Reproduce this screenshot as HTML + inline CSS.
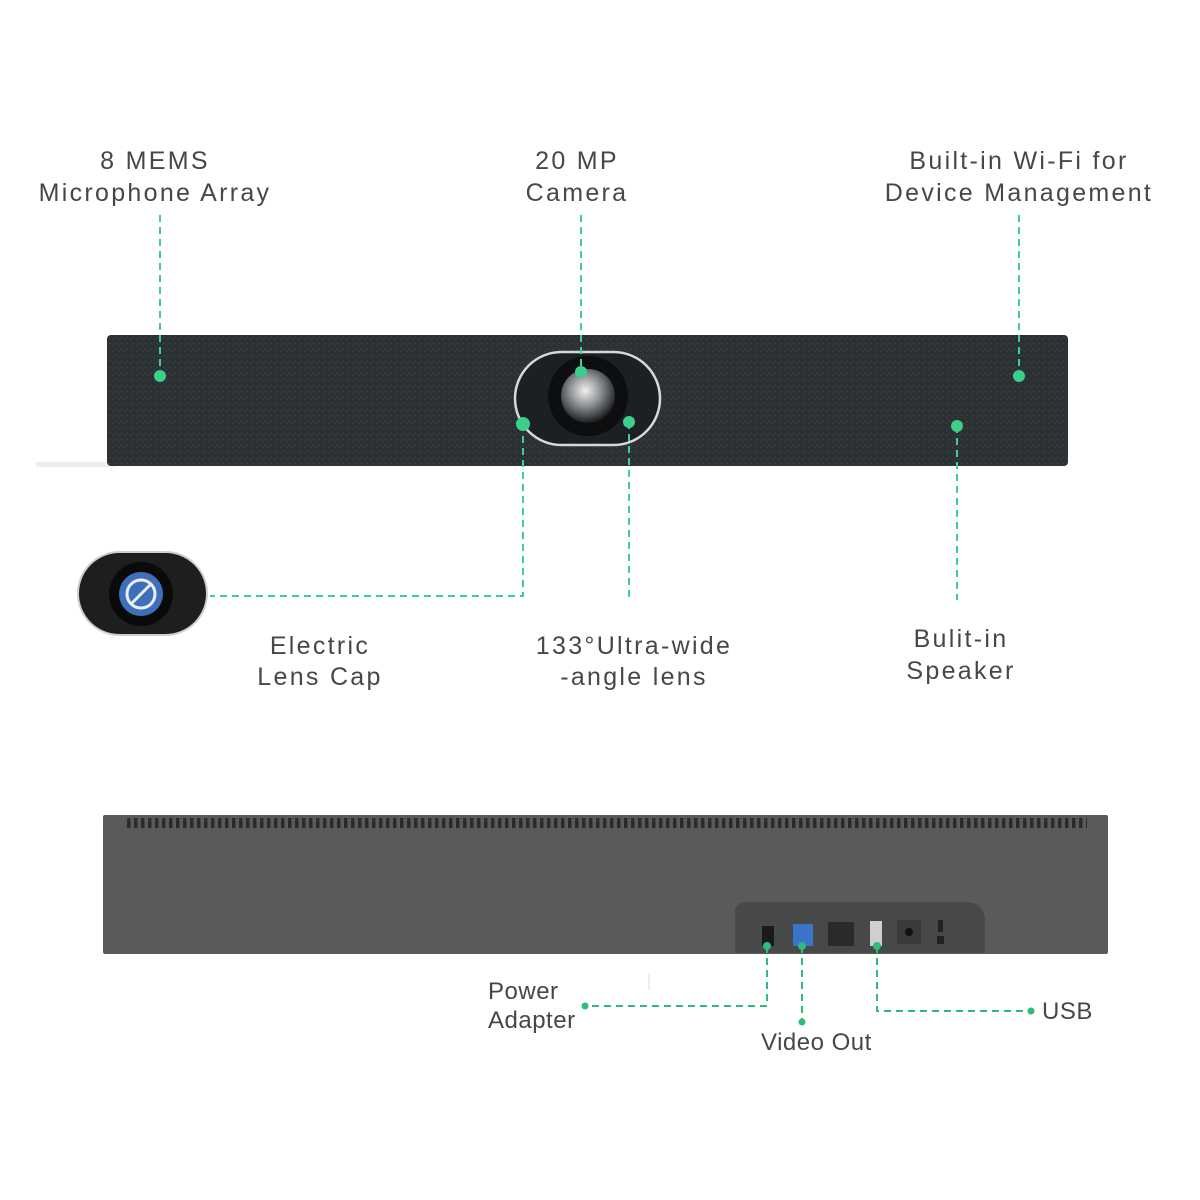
<!DOCTYPE html>
<html><head><meta charset="utf-8"><style>
html,body{margin:0;padding:0;background:#fff;}
svg{display:block;}
text{font-family:"Liberation Sans",sans-serif;fill:#474747;font-size:25px;letter-spacing:2.3px;}
</style></head><body>
<svg width="1200" height="1200" viewBox="0 0 1200 1200" xmlns="http://www.w3.org/2000/svg">
<defs>
<pattern id="tex" width="6" height="6" patternUnits="userSpaceOnUse">
<rect width="6" height="6" fill="#2c3134"/>
<rect x="1" y="1" width="1" height="1" fill="#454b4e"/>
<rect x="4" y="3" width="1" height="1" fill="#3e4447"/>
<rect x="2" y="4" width="1" height="1" fill="#23282a"/>
</pattern>
<radialGradient id="lens" cx="0.45" cy="0.4" r="0.6">
<stop offset="0" stop-color="#f0f0f0"/><stop offset="0.5" stop-color="#8a8d90"/><stop offset="1" stop-color="#1a1c1e"/>
</radialGradient>
<pattern id="grill" width="7" height="10" patternUnits="userSpaceOnUse">
<rect width="7" height="10" fill="#5a5a5a"/><rect x="1" y="0" width="3.5" height="10" rx="1" fill="#2a2a2a"/>
</pattern>
</defs>

<text x="155" y="169" text-anchor="middle">8 MEMS</text>
<text x="155" y="201" text-anchor="middle">Microphone Array</text>
<text x="577" y="169" text-anchor="middle">20 MP</text>
<text x="577" y="201" text-anchor="middle">Camera</text>
<text x="1019" y="169" text-anchor="middle">Built-in Wi-Fi for</text>
<text x="1019" y="201" text-anchor="middle">Device Management</text>

<rect x="36" y="462" width="80" height="5" fill="#eee"/>
<rect x="107" y="335" width="961" height="131" rx="4" fill="url(#tex)"/>
<rect x="515" y="352" width="145" height="93" rx="46.5" fill="#1d2022" stroke="#d8d8d8" stroke-width="2.5"/>
<circle cx="588" cy="396" r="40" fill="#0d0e0f"/>
<circle cx="588" cy="396" r="27" fill="url(#lens)"/>

<rect x="78" y="552" width="129" height="83" rx="41.5" fill="#1c1e20" stroke="#cfcfcf" stroke-width="2"/>
<circle cx="141" cy="594" r="32" fill="#0a0a0a"/>
<circle cx="141" cy="594" r="22" fill="#3f6fb8"/>
<circle cx="141" cy="594" r="14" fill="none" stroke="#e8eef8" stroke-width="3"/>
<line x1="131" y1="604" x2="151" y2="584" stroke="#e8eef8" stroke-width="3"/>

<g stroke="#3ccf9a" stroke-width="2" stroke-dasharray="7,5" fill="none">
<line x1="160" y1="215" x2="160" y2="376"/>
<line x1="581" y1="215" x2="581" y2="372"/>
<line x1="1019" y1="215" x2="1019" y2="376"/>
<polyline points="523,424 523,596 210,596"/>
<line x1="629" y1="422" x2="629" y2="600"/>
<line x1="957" y1="426" x2="957" y2="600"/>
</g>
<g fill="#3ccf8a">
<circle cx="160" cy="376" r="6"/><circle cx="581" cy="372" r="6"/><circle cx="1019" cy="376" r="6"/>
<circle cx="523" cy="424" r="7"/><circle cx="629" cy="422" r="6"/><circle cx="957" cy="426" r="6"/>
</g>

<text x="320" y="654" text-anchor="middle">Electric</text>
<text x="320" y="685" text-anchor="middle">Lens Cap</text>
<text x="634" y="654" text-anchor="middle">133°Ultra-wide</text>
<text x="634" y="685" text-anchor="middle">-angle lens</text>
<text x="961" y="647" text-anchor="middle">Bulit-in</text>
<text x="961" y="679" text-anchor="middle">Speaker</text>

<rect x="103" y="815" width="1005" height="139" rx="2" fill="#5a5a5a"/>
<rect x="125" y="818" width="962" height="10" fill="url(#grill)"/>
<path d="M735,953 L735,912 Q735,902 748,902 L965,902 Q985,902 985,922 L985,953 Z" fill="#474849"/>
<rect x="762" y="926" width="12" height="20" fill="#1a1a1a"/>
<rect x="793" y="924" width="20" height="22" fill="#3b74c8"/>
<rect x="828" y="922" width="26" height="24" fill="#2a2a2a"/>
<rect x="870" y="921" width="12" height="25" fill="#cfcfcf"/>
<rect x="897" y="920" width="24" height="24" fill="#3a3a3a"/>
<circle cx="909" cy="932" r="4" fill="#111"/>
<rect x="938" y="920" width="5" height="12" fill="#222"/>
<rect x="937" y="936" width="7" height="8" fill="#222"/>
<line x1="649" y1="973" x2="649" y2="990" stroke="#ddd" stroke-width="1"/>

<g stroke="#2fbb7c" stroke-width="2" stroke-dasharray="7,5" fill="none">
<polyline points="767,946 767,1006 585,1006"/>
<line x1="802" y1="946" x2="802" y2="1022"/>
<polyline points="877,946 877,1011 1031,1011"/>
</g>
<g fill="#2fbb7c">
<circle cx="767" cy="946" r="4"/><circle cx="802" cy="946" r="4"/><circle cx="877" cy="946" r="4"/>
<circle cx="585" cy="1006" r="3.5"/><circle cx="802" cy="1022" r="3.5"/><circle cx="1031" cy="1011" r="3.5"/>
</g>
<text x="488" y="999" style="font-size:24px;letter-spacing:0.5px">Power</text>
<text x="488" y="1028" style="font-size:24px;letter-spacing:0.5px">Adapter</text>
<text x="761" y="1050" style="font-size:24px;letter-spacing:0.5px">Video Out</text>
<text x="1042" y="1019" style="font-size:24px;letter-spacing:0.5px">USB</text>
</svg>
</body></html>
